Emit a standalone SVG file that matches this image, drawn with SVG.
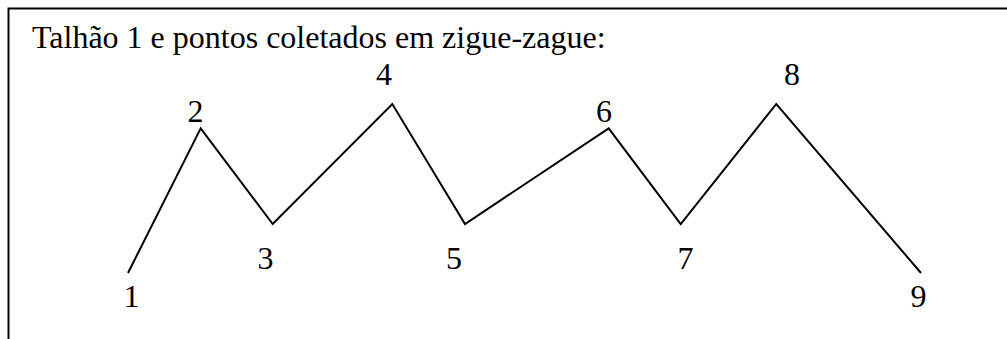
<svg xmlns="http://www.w3.org/2000/svg" width="1007" height="339" viewBox="0 0 1007 339">
<style>
.t{font-family:"Liberation Serif","Times New Roman",serif;font-size:32px;fill:#000}
.n{text-anchor:middle}
.c{fill:none;stroke:#000;stroke-width:2;stroke-linejoin:miter}
</style>
<rect width="1007" height="339" fill="#fff"/>
<g id="frame">
<path d="M8.5,339 V8.5 H1007" fill="none" stroke="#000" stroke-width="2"/>
</g>
<text id="title" class="t" x="32" y="48">Talhão 1 e pontos coletados em zigue-zague:</text>
<g id="connectors">
<polyline class="c" points="128,273 200.7,128.3 272.7,224 392.3,104 465,224 608.7,128.3 680.7,224 776.3,104 921,273"/>
</g>
<g id="p1"><text class="t n" x="131.5" y="307">1</text></g>
<g id="p2"><text class="t n" x="195.5" y="122">2</text></g>
<g id="p3"><text class="t n" x="265.5" y="269">3</text></g>
<g id="p4"><text class="t n" x="384" y="85">4</text></g>
<g id="p5"><text class="t n" x="454" y="269">5</text></g>
<g id="p6"><text class="t n" x="604" y="122">6</text></g>
<g id="p7"><text class="t n" x="685.5" y="269">7</text></g>
<g id="p8"><text class="t n" x="792" y="85">8</text></g>
<g id="p9"><text class="t n" x="918.5" y="307">9</text></g>
</svg>
